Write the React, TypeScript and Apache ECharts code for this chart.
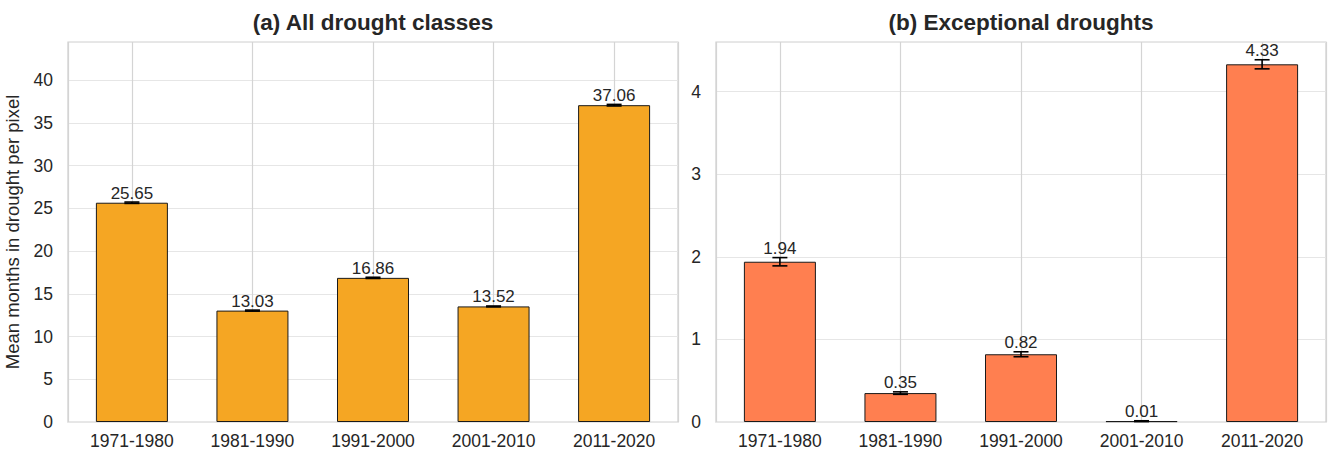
import React, { useEffect, useRef } from "react";
import * as echarts from "echarts";

// Decades shown on both panels
const decades = ["1971-1980", "1981-1990", "1991-2000", "2001-2010", "2011-2020"];

// Panel (a): all drought classes, mean months per pixel and its uncertainty
const allClassesMean = [25.65, 13.03, 16.86, 13.52, 37.06];
const allClassesErr = [0.08, 0.06, 0.07, 0.05, 0.09];

// Panel (b): exceptional droughts
const exceptionalMean = [1.94, 0.35, 0.82, 0.01, 4.33];
const exceptionalErr = [0.05, 0.015, 0.03, 0.005, 0.055];

const panelTitles = ["(a) All drought classes", "(b) Exceptional droughts"];
const yAxisTitle = "Mean months in drought per pixel";

const FONT = "'Liberation Sans', Arial, Helvetica, sans-serif";
const TEXT = "#262626";

// Error bar with caps, plus the value label sitting just above the upper cap
function errorBarRender(params: any, api: any) {
  const x = api.value(0);
  const lo = api.coord([x, api.value(1)]);
  const hi = api.coord([x, api.value(2)]);
  const mean = api.value(3);
  const half = 7.5;
  const style = { stroke: "#000", lineWidth: 1.6 };
  return {
    type: "group",
    children: [
      { type: "line", shape: { x1: lo[0], y1: lo[1], x2: hi[0], y2: hi[1] }, style },
      { type: "line", shape: { x1: lo[0] - half, y1: lo[1], x2: lo[0] + half, y2: lo[1] }, style },
      { type: "line", shape: { x1: hi[0] - half, y1: hi[1], x2: hi[0] + half, y2: hi[1] }, style },
      {
        type: "text",
        x: hi[0],
        y: hi[1] - 0.5,
        style: {
          text: Number(mean).toFixed(2),
          fontFamily: FONT,
          fontSize: 17,
          fill: TEXT,
          textAlign: "center",
          textVerticalAlign: "bottom",
        },
      },
    ],
  };
}

export default function App() {
  const ref = useRef<HTMLDivElement>(null);

  useEffect(() => {
    if (!ref.current) return;
    const chart = echarts.init(ref.current, null, { renderer: "svg" });

    const grids = [
      { left: 68, top: 42, width: 610, height: 380 },
      { left: 716, top: 42, width: 610, height: 380 },
    ].map((g) => ({
      ...g,
      show: true,
      borderColor: "#cfcfcf",
      borderWidth: 1.25,
      backgroundColor: "transparent",
    }));

    const xAxes = [0, 1].map((i) => ({
      type: "value",
      gridIndex: i,
      min: -0.53,
      max: 4.53,
      axisLine: { show: false },
      axisTick: { show: false },
      splitLine: { show: true, lineStyle: { color: "#d4d4d4", width: 1.2 } },
      axisLabel: {
        fontFamily: FONT,
        fontSize: 17.5,
        color: TEXT,
        margin: 10,
        showMinLabel: true,
        showMaxLabel: true,
        formatter: (v: number) => {
          const r = Math.round(v);
          return Math.abs(v - r) < 1e-6 && r >= 0 && r < decades.length ? decades[r] : "";
        },
      },
    }));

    const tickLabel = { fontFamily: FONT, fontSize: 17.5, color: TEXT, margin: 15, showMaxLabel: false };

    const yAxes = [
      {
        type: "value",
        gridIndex: 0,
        min: 0,
        max: 44.45,
        interval: 5,
        name: yAxisTitle,
        nameLocation: "middle",
        nameGap: 46,
        nameTextStyle: { fontFamily: FONT, fontSize: 18.5, color: TEXT },
        axisLine: { show: false },
        axisTick: { show: false },
        splitLine: { show: true, lineStyle: { color: "#e6e6e6", width: 1.2 } },
        axisLabel: tickLabel,
      },
      {
        type: "value",
        gridIndex: 1,
        min: 0,
        max: 4.6,
        interval: 1,
        axisLine: { show: false },
        axisTick: { show: false },
        splitLine: { show: true, lineStyle: { color: "#e6e6e6", width: 1.2 } },
        axisLabel: tickLabel,
      },
    ];

    const panels = [
      { mean: allClassesMean, err: allClassesErr, color: "#F5A623" },
      { mean: exceptionalMean, err: exceptionalErr, color: "#FF7F50" },
    ];

    const series: any[] = [];
    panels.forEach((p, i) => {
      series.push({
        type: "bar",
        xAxisIndex: i,
        yAxisIndex: i,
        barWidth: 72,
        z: 2,
        data: p.mean.map((v, k) => [k, v]),
        itemStyle: { color: p.color, borderColor: "#1a1a1a", borderWidth: 1 },
      });
      series.push({
        type: "custom",
        xAxisIndex: i,
        yAxisIndex: i,
        z: 3,
        renderItem: errorBarRender,
        encode: { x: 0, y: [1, 2] },
        data: p.mean.map((v, k) => [k, v - p.err[k], v + p.err[k], v]),
      });
    });

    chart.setOption({
      animation: false,
      backgroundColor: "#ffffff",
      grid: grids,
      xAxis: xAxes,
      yAxis: yAxes,
      series,
      graphic: panelTitles.map((t, i) => ({
        type: "text",
        x: i === 0 ? 373 : 1021,
        y: 22,
        style: {
          text: t,
          fontFamily: FONT,
          fontSize: 22.5,
          fontWeight: "bold",
          fill: TEXT,
          textAlign: "center",
          textVerticalAlign: "middle",
        },
      })),
    });

    return () => chart.dispose();
  }, []);

  return (
    <div
      ref={ref}
      style={{ position: "fixed", left: 0, top: 0, width: 1338, height: 452 }}
    />
  );
}
